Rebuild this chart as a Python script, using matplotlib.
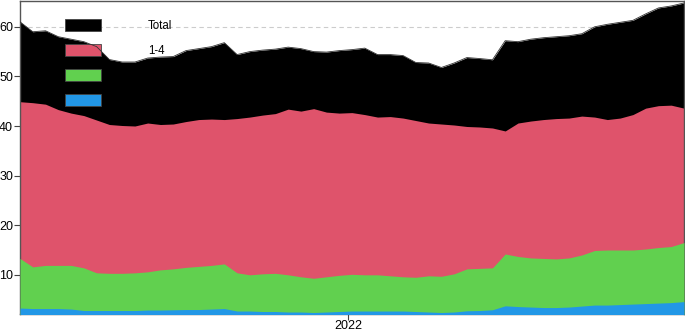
import matplotlib
matplotlib.use("Agg")
import matplotlib.pyplot as plt
import matplotlib.dates as mdates
import pandas as pd

plt.rcParams["font.family"] = ["Liberation Sans", "DejaVu Sans"]

# weekly readings, Jul 2021 - Jul 2022
dates = pd.date_range("2021-07-05", periods=53, freq="7D")

total = [61.0, 59.0, 59.2, 58.0, 57.5, 57.0, 56.0, 53.4, 52.9, 52.9,
         53.7, 53.9, 54.0, 55.2, 55.6, 56.0, 56.8, 54.4, 55.0, 55.3,
         55.5, 55.9, 55.6, 55.0, 54.9, 55.2, 55.4, 55.7, 54.4, 54.4,
         54.2, 52.8, 52.7, 51.8, 52.7, 53.8, 53.6, 53.35, 57.2, 57.0,
         57.5, 57.8, 58.0, 58.2, 58.6, 60.0, 60.5, 60.9, 61.3, 62.6,
         63.8, 64.2, 64.8]

# cumulative tops
top_1_4 = [44.9, 44.7, 44.4, 43.3, 42.6, 42.1, 41.2, 40.3, 40.1, 40.0,
           40.6, 40.3, 40.4, 40.9, 41.3, 41.4, 41.3, 41.5, 41.8, 42.2,
           42.5, 43.4, 43.0, 43.5, 42.8, 42.6, 42.7, 42.3, 41.8, 41.9,
           41.6, 41.1, 40.6, 40.4, 40.2, 39.9, 39.8, 39.6, 39.0, 40.6,
           41.0, 41.3, 41.5, 41.6, 42.0, 41.8, 41.3, 41.6, 42.3, 43.6,
           44.1, 44.2, 43.6]

top_green = [13.3, 11.6, 11.9, 11.9, 11.9, 11.4, 10.4, 10.3, 10.3, 10.4,
             10.6, 11.0, 11.2, 11.5, 11.7, 11.9, 12.2, 10.4, 10.0, 10.2,
             10.3, 10.0, 9.6, 9.3, 9.6, 9.9, 10.1, 10.0, 10.0, 9.8,
             9.6, 9.5, 9.8, 9.7, 10.2, 11.2, 11.3, 11.4, 14.2, 13.7,
             13.4, 13.3, 13.2, 13.4, 14.0, 14.9, 15.0, 15.0, 15.0, 15.2,
             15.5, 15.7, 16.5]

top_blue = [3.3, 3.2, 3.2, 3.2, 3.1, 2.8, 2.8, 2.8, 2.8, 2.8,
            2.9, 2.9, 2.95, 3.0, 3.0, 3.1, 3.2, 2.7, 2.7, 2.6,
            2.6, 2.5, 2.5, 2.4, 2.5, 2.6, 2.7, 2.7, 2.7, 2.7,
            2.7, 2.6, 2.5, 2.4, 2.5, 2.75, 2.8, 2.95, 3.75, 3.6,
            3.5, 3.4, 3.4, 3.5, 3.7, 3.9, 3.9, 4.0, 4.1, 4.2,
            4.3, 4.4, 4.6]

labels = ["Total", "1-4", "", ""]
colors = ["#000000", "#DF536B", "#61D04F", "#2297E6"]

fig = plt.figure(figsize=(6.85, 3.32), dpi=100)
ax = fig.add_axes([0.0292, 0.0557, 0.9693, 0.9413])

ax.axhline(60, color="#cccccc", lw=0.8, ls=(0, (4, 3)), zorder=0)

ax.fill_between(dates, 0, total, color=colors[0], lw=0, zorder=1)
ax.fill_between(dates, 0, top_1_4, color=colors[1], lw=0, zorder=2)
ax.fill_between(dates, 0, top_green, color=colors[2], lw=0, zorder=3)
ax.fill_between(dates, 0, top_blue, color=colors[3], lw=0, zorder=4)
ax.plot(dates, total, color="#333333", lw=0.6, zorder=10)

handles = [plt.Rectangle((0, 0), 1, 1, fc=c, ec="#444444", lw=0.6) for c in colors]
leg = ax.legend(handles, labels, loc="upper left", bbox_to_anchor=(0.068, 0.942),
                frameon=False, fontsize=8.3, handlelength=3.1, handleheight=1.2,
                handletextpad=4.1, labelspacing=1.05, borderpad=0, borderaxespad=0)
leg.set_zorder(5)

ax.set_xlim(dates[0], dates[-1])
ax.set_ylim(2.2, 65.2)
ax.set_yticks([10, 20, 30, 40, 50, 60])
ax.set_xticks([pd.Timestamp("2022-01-01")])
ax.xaxis.set_major_formatter(mdates.DateFormatter("%Y"))
ax.tick_params(labelsize=9, length=4, width=0.8, color="#444444", pad=1)
for s in ax.spines.values():
    s.set_color("#555555")
    s.set_linewidth(1.0)

fig.savefig("out.png", dpi=100)
